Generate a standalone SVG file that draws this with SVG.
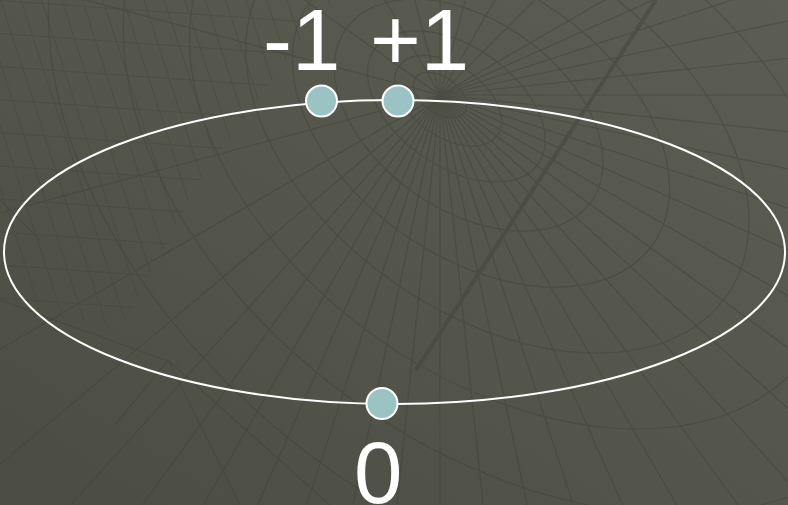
<svg xmlns="http://www.w3.org/2000/svg" xmlns:xlink="http://www.w3.org/1999/xlink" width="788" height="505" viewBox="0 0 788 505">
<style>
.grid{stroke:#44453c;stroke-width:1.2;fill:none;opacity:0.55}
.lbl{font-family:"Liberation Sans",Arial,sans-serif;font-size:87px;fill:#ffffff}
.dot{fill:#9bc3c3;stroke:#ffffff;stroke-width:2}
</style>
<defs>
<linearGradient id="bg" x1="0" y1="1" x2="1" y2="0">
<stop offset="0" stop-color="#4b4c43"/>
<stop offset="1" stop-color="#5d5e53"/>
</linearGradient>
<line id="r" x1="0" y1="0" x2="1000" y2="0"/>
<pattern id="mesh" width="21" height="33" patternUnits="userSpaceOnUse" patternTransform="rotate(4) skewX(22)">
<path d="M0 0H21M0 0V33" stroke="#44453c" stroke-width="2" fill="none"/>
</pattern>
<clipPath id="ulclip"><path d="M0 0H330L200 180L120 330L0 300Z"/></clipPath>
</defs>
<rect width="788" height="505" fill="url(#bg)"/>
<g id="background-grid" class="grid">
<rect width="788" height="505" fill="url(#mesh)" stroke="none" clip-path="url(#ulclip)" opacity="0.8"/>
<g transform="translate(440,95)">
<use xlink:href="#r" transform="rotate(-30)"/><use xlink:href="#r" transform="rotate(-24)"/><use xlink:href="#r" transform="rotate(-18)"/><use xlink:href="#r" transform="rotate(-12)"/><use xlink:href="#r" transform="rotate(-6)"/><use xlink:href="#r" transform="rotate(0)"/><use xlink:href="#r" transform="rotate(6)"/><use xlink:href="#r" transform="rotate(12)"/><use xlink:href="#r" transform="rotate(18)"/><use xlink:href="#r" transform="rotate(24)"/><use xlink:href="#r" transform="rotate(30)"/><use xlink:href="#r" transform="rotate(36)"/><use xlink:href="#r" transform="rotate(42)"/><use xlink:href="#r" transform="rotate(48)"/><use xlink:href="#r" transform="rotate(54)"/><use xlink:href="#r" transform="rotate(60)"/><use xlink:href="#r" transform="rotate(66)"/><use xlink:href="#r" transform="rotate(72)"/><use xlink:href="#r" transform="rotate(78)"/><use xlink:href="#r" transform="rotate(84)"/><use xlink:href="#r" transform="rotate(90)"/><use xlink:href="#r" transform="rotate(96)"/><use xlink:href="#r" transform="rotate(102)"/><use xlink:href="#r" transform="rotate(108)"/><use xlink:href="#r" transform="rotate(114)"/><use xlink:href="#r" transform="rotate(120)"/><use xlink:href="#r" transform="rotate(126)"/><use xlink:href="#r" transform="rotate(132)"/><use xlink:href="#r" transform="rotate(140)"/><use xlink:href="#r" transform="rotate(150)"/><use xlink:href="#r" transform="rotate(165)"/><use xlink:href="#r" transform="rotate(195)"/><use xlink:href="#r" transform="rotate(215)"/><use xlink:href="#r" transform="rotate(240)"/><use xlink:href="#r" transform="rotate(255)"/><use xlink:href="#r" transform="rotate(270)"/><use xlink:href="#r" transform="rotate(285)"/><use xlink:href="#r" transform="rotate(300)"/><use xlink:href="#r" transform="rotate(315)"/>
<g transform="rotate(35)">
<ellipse cx="0" cy="0" rx="30" ry="18"/><ellipse cx="10" cy="0" rx="60" ry="36"/><ellipse cx="20" cy="0" rx="100" ry="60"/><ellipse cx="35" cy="0" rx="150" ry="95"/><ellipse cx="50" cy="0" rx="210" ry="135"/><ellipse cx="70" cy="0" rx="280" ry="180"/><ellipse cx="90" cy="0" rx="360" ry="235"/><ellipse cx="110" cy="0" rx="450" ry="300"/><ellipse cx="130" cy="0" rx="550" ry="370"/>
</g>
</g>
<path d="M0 300L170 362L330 505M115 425L168 360L240 505M0 200L40 240"/>
<line x1="656" y1="0" x2="416" y2="370" stroke-width="4"/>
</g>
<g id="connectors">
<ellipse id="cycle" cx="394.5" cy="252" rx="390.5" ry="152" fill="none" stroke="#ffffff" stroke-width="2"/>
</g>
<g id="node-minus1">
<circle class="dot" cx="321.5" cy="101" r="15.5"/>
<text class="lbl" x="263" y="70">-1</text>
</g>
<g id="node-plus1">
<circle class="dot" cx="398" cy="101" r="15.5"/>
<text class="lbl" x="370" y="70">+1</text>
</g>
<g id="node-zero">
<circle class="dot" cx="382" cy="403.5" r="15.5"/>
<text class="lbl" x="354" y="503">0</text>
</g>
</svg>
